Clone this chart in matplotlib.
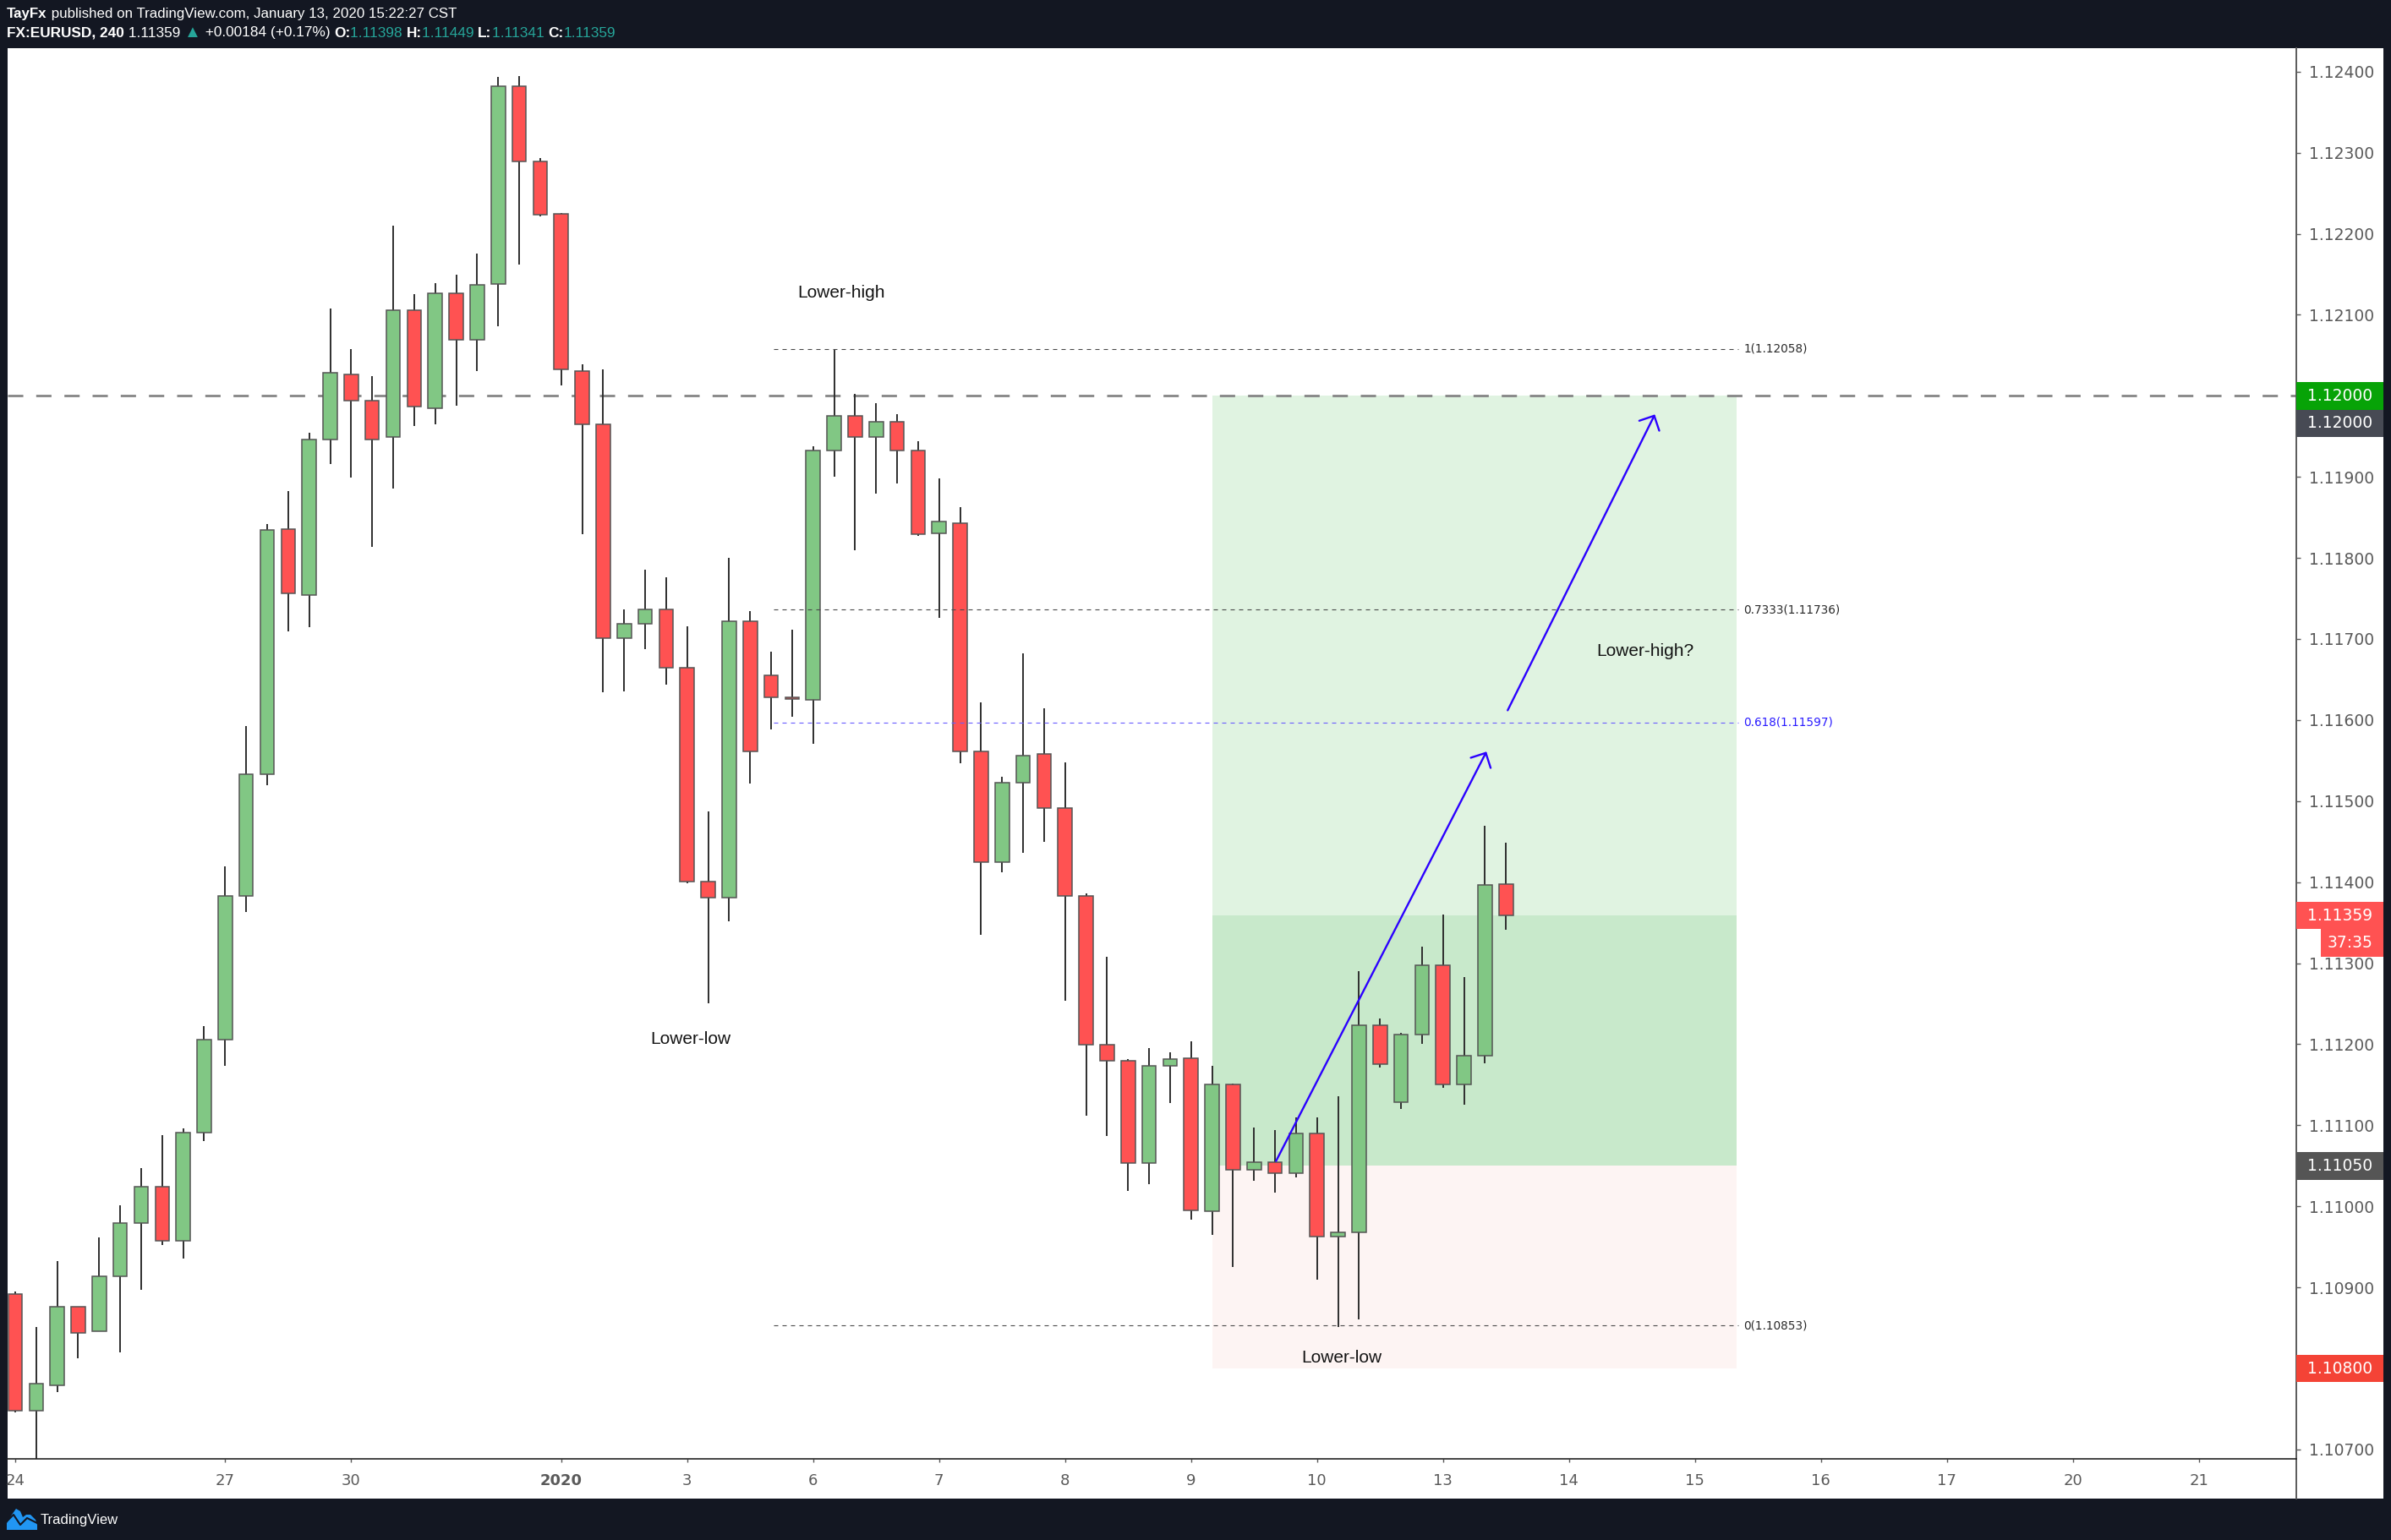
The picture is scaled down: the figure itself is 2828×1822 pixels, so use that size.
import matplotlib
matplotlib.use("Agg")
import matplotlib.pyplot as plt
from matplotlib.patches import Rectangle, FancyArrowPatch, Polygon
from matplotlib.transforms import IdentityTransform
import numpy as np

W, H = 2828, 1822

################## DATA : FX:EURUSD 240 ##################
opens = [1.10892, 1.10748, 1.10779, 1.10876, 1.10846, 1.10914, 1.10979, 1.11024, 1.10958, 1.11091,
         1.11206, 1.11383, 1.11533, 1.11836, 1.11754, 1.11946, 1.12026, 1.11994, 1.11949, 1.12106,
         1.11985, 1.12127, 1.12069, 1.12138, 1.12382, 1.12289, 1.12224, 1.12031, 1.11965, 1.11701,
         1.11719, 1.11736, 1.11665, 1.11401, 1.11381, 1.11722, 1.11655, 1.11628, 1.11625, 1.11933,
         1.11975, 1.11949, 1.11968, 1.11933, 1.11830, 1.11843, 1.11561, 1.11425, 1.11523, 1.11558,
         1.11491, 1.11383, 1.11199, 1.11180, 1.11053, 1.11173, 1.11183, 1.10994, 1.11150, 1.11045,
         1.11055, 1.11041, 1.11090, 1.10963, 1.10968, 1.11223, 1.11129, 1.11212, 1.11297, 1.11150,
         1.11186, 1.11398]
highs = [1.10895, 1.10851, 1.10932, 1.10876, 1.10962, 1.11001, 1.11047, 1.11088, 1.11096, 1.11222,
         1.11419, 1.11593, 1.11842, 1.11883, 1.11954, 1.12108, 1.12058, 1.12024, 1.12210, 1.12125,
         1.12139, 1.12149, 1.12176, 1.12393, 1.12395, 1.12293, 1.12226, 1.12039, 1.12033, 1.11736,
         1.11786, 1.11776, 1.11716, 1.11487, 1.11800, 1.11734, 1.11684, 1.11711, 1.11938, 1.12058,
         1.12002, 1.11991, 1.11977, 1.11944, 1.11898, 1.11863, 1.11622, 1.11530, 1.11682, 1.11614,
         1.11548, 1.11386, 1.11308, 1.11182, 1.11195, 1.11190, 1.11204, 1.11173, 1.11152, 1.11097,
         1.11094, 1.11110, 1.11110, 1.11136, 1.11290, 1.11232, 1.11214, 1.11320, 1.11360, 1.11283,
         1.11470, 1.11449]
lows = [1.10746, 1.10687, 1.10771, 1.10813, 1.10846, 1.10820, 1.10897, 1.10952, 1.10936, 1.11081,
        1.11173, 1.11363, 1.11520, 1.11709, 1.11715, 1.11916, 1.11899, 1.11814, 1.11886, 1.11963,
        1.11965, 1.11988, 1.12031, 1.12086, 1.12162, 1.12221, 1.12013, 1.11829, 1.11634, 1.11635,
        1.11688, 1.11644, 1.11399, 1.11251, 1.11352, 1.11522, 1.11588, 1.11604, 1.11571, 1.11900,
        1.11809, 1.11879, 1.11892, 1.11827, 1.11726, 1.11547, 1.11335, 1.11412, 1.11436, 1.11450,
        1.11254, 1.11112, 1.11087, 1.11019, 1.11027, 1.11127, 1.10984, 1.10965, 1.10925, 1.11032,
        1.11017, 1.11036, 1.10910, 1.10851, 1.10861, 1.11171, 1.11120, 1.11200, 1.11146, 1.11125,
        1.11177, 1.11341]
closes = [1.10748, 1.10781, 1.10876, 1.10844, 1.10914, 1.10979, 1.11024, 1.10958, 1.11091, 1.11206,
          1.11383, 1.11533, 1.11834, 1.11756, 1.11946, 1.12028, 1.11994, 1.11946, 1.12106, 1.11987,
          1.12127, 1.12069, 1.12137, 1.12382, 1.12289, 1.12223, 1.12033, 1.11965, 1.11701, 1.11719,
          1.11736, 1.11665, 1.11401, 1.11381, 1.11722, 1.11561, 1.11628, 1.11626, 1.11933, 1.11975,
          1.11949, 1.11968, 1.11933, 1.11829, 1.11845, 1.11561, 1.11425, 1.11523, 1.11556, 1.11491,
          1.11383, 1.11199, 1.11180, 1.11053, 1.11173, 1.11182, 1.10995, 1.11150, 1.11045, 1.11055,
          1.11041, 1.11090, 1.10963, 1.10968, 1.11223, 1.11175, 1.11212, 1.11297, 1.11150, 1.11186,
          1.11397, 1.11359]

# date axis (bar index of first bar of each labelled day)
day_ticks = [0, 10, 16, 26, 32, 38, 44, 50, 56, 62, 68, 74, 80, 86, 92, 98, 104]
day_labels = ["24", "27", "30", "2020", "3", "6", "7", "8", "9", "10", "13",
              "14", "15", "16", "17", "20", "21"]
price_ticks = [1.107, 1.108, 1.109, 1.110, 1.111, 1.112, 1.113, 1.114, 1.115,
               1.116, 1.117, 1.118, 1.119, 1.120, 1.121, 1.122, 1.123, 1.124]

# long position tool
pos_bars = (57, 82)
pos_target, pos_entry, pos_stop = 1.12000, 1.11050, 1.10800
last_price = 1.11359
hline_price = 1.12000

# fib retracement
fib_bars = (36.1, 82.06)
fib_ratios = ["1", "0.7333", "0.618", "0"]
fib_prices = [1.12058, 1.11736, 1.11597, 1.10853]
fib_colors = ["#4a4a4a", "#4a4a4a", "#6a5cff", "#4a4a4a"]
fib_text_colors = ["#2a2a2a", "#2a2a2a", "#2a1bff", "#2a2a2a"]

# arrows (bar, price) -> (bar, price)
arrows = [((60.05, 1.11056), (70.07, 1.11561)),
          ((71.08, 1.11612), (78.09, 1.11977))]

# text notes
note_text = ["Lower-high", "Lower-low", "Lower-high?", "Lower-low"]
note_x = [39.36, 32.17, 77.61, 63.18]
note_y = [1.12127, 1.11206, 1.11685, 1.10813]

################## FIGURE ##################
DARK = "#131722"
UP, DOWN = "#81c784", "#ff5252"
fig = plt.figure(figsize=(W / 100, H / 100), dpi=100, facecolor=DARK)

def fx(px):
    return px / W

def fy(py):  # py measured from top
    return 1 - py / H

# white panel behind price scale and time scale
fig.patches.append(Rectangle((fx(9), fy(1773)), fx(2819 - 9), (1773 - 57) / H,
                             transform=fig.transFigure, facecolor="white",
                             edgecolor="none", zorder=-5))

ax = fig.add_axes([fx(9), fy(1726), fx(2716 - 9), (1726 - 57) / H])
ax.set_zorder(2)
ax.set_facecolor("white")
ax.set_xlim(-0.362, 108.64)
ax.set_ylim(1.106885, 1.124289)

# position tool
x0, x1 = pos_bars
ax.add_patch(Rectangle((x0, pos_entry), x1 - x0, pos_target - pos_entry,
                       facecolor="#e0f3e1", edgecolor="none", zorder=1))
ax.add_patch(Rectangle((x0, pos_entry), x1 - x0, last_price - pos_entry,
                       facecolor="#c8e9cb", edgecolor="none", zorder=1.1))
ax.add_patch(Rectangle((x0, pos_stop), x1 - x0, pos_entry - pos_stop,
                       facecolor="#fdf4f3", edgecolor="none", zorder=1))

# horizontal dashed level
ax.axhline(hline_price, color="#858585", lw=2.0, dashes=(6.5, 5.5), zorder=1.5)

# candles
idx = np.arange(len(opens))
o, h, l, c = map(np.array, (opens, highs, lows, closes))
cols = np.where(c >= o, UP, DOWN)
ax.vlines(idx, l, h, color="#2e2e2e", lw=1.4, zorder=2.5)
ax.bar(idx, np.maximum(np.abs(c - o), 0.000025), bottom=np.minimum(o, c), width=0.67,
       color=cols, edgecolor="#555555", linewidth=1.1, zorder=3)

# fib levels
for ratio, p, lc, tc in zip(fib_ratios, fib_prices, fib_colors, fib_text_colors):
    ax.plot(fib_bars, [p, p], color=lc, lw=0.8, dashes=(4.5, 4.5), zorder=4)
    ax.text(fib_bars[1] + 0.25, p, f"{ratio}({p:.5f})", color=tc, fontsize=9.8,
            va="center", ha="left", zorder=5)

# arrows
for (a, b) in arrows:
    ax.add_patch(FancyArrowPatch(a, b, arrowstyle="->,head_length=9.5,head_width=9.5",
                                 mutation_scale=1, lw=1.7, color="#2b00ff",
                                 shrinkA=0, shrinkB=0, zorder=6))

# notes
for t, x, y in zip(note_text, note_x, note_y):
    ax.text(x, y, t, fontsize=15, family=["Liberation Sans", "DejaVu Sans"],
            color="#131313", ha="center", va="center", zorder=6)

# axes styling
for s in ("top", "left"):
    ax.spines[s].set_visible(False)
ax.spines["right"].set_color("#5a5a5a")
ax.spines["right"].set_linewidth(1.4)
ax.spines["bottom"].set_color("#222222")
ax.spines["bottom"].set_linewidth(1.2)
ax.yaxis.tick_right()
ax.set_yticks(price_ticks)
ax.set_yticklabels([f"{p:.5f}" for p in price_ticks])
ax.tick_params(axis="y", length=3.6, width=1, color="#5a5a5a", pad=7,
               labelsize=13.5, labelcolor="#5a5a5a")
ax.set_xticks(day_ticks)
ax.set_xticklabels(day_labels)
ax.tick_params(axis="x", length=3, width=1, color="#5a5a5a", pad=9,
               labelsize=13, labelcolor="#5a5a5a")
for lab in ax.get_xticklabels():
    if lab.get_text() == "2020":
        lab.set_fontweight("bold")

# price scale continues through time scale row
fig.add_artist(plt.Line2D([fx(2716), fx(2716)], [fy(1773), fy(1726)],
                          transform=fig.transFigure, color="#5a5a5a", lw=1.4))

# price labels on the scale
bx0 = 1.0
bx1 = (2819 - 9) / (2716 - 9)
txr = (2806 - 9) / (2716 - 9)
bh = 32.5 / 95.9 * 0.001
scale_tags = [(1.12000, "1.12000", "#07a307", bx0, "white"),
              (1.12000 - bh, "1.12000", "#474a54", bx0, "white"),
              (1.11359, "1.11359", "#ff5252", bx0, "white"),
              (1.11359 - bh, "37:35", "#ff5252", (2745 - 9) / (2716 - 9), "white"),
              (1.11050, "1.11050", "#555555", bx0, "white"),
              (1.10800, "1.10800", "#f44336", bx0, "white")]
yt = ax.get_yaxis_transform()
for p, s, fc, left, tc in scale_tags:
    ax.add_patch(Rectangle((left, p - bh / 2), bx1 - left, bh, transform=yt,
                           facecolor=fc, edgecolor="none", clip_on=False, zorder=20))
    ax.text(txr, p, s, transform=yt, ha="right", va="center", color=tc,
            fontsize=13.5, clip_on=False, zorder=21)

# header
fig.canvas.draw()
rend = fig.canvas.get_renderer()
HF = ["Liberation Sans", "DejaVu Sans"]

def segments(y_px, segs, x_px=8, size=12.2):
    x = x_px
    for s, col, wt, *sz in segs:
        t = fig.text(x, H - y_px, s, color=col, fontweight=wt,
                     fontsize=sz[0] if sz else size,
                     family=HF, va="center", ha="left", transform=IdentityTransform())
        x = t.get_window_extent(rend).x1

TEAL = "#26a69a"
segments(17, [("TayFx", "white", "bold"),
              (" published on TradingView.com, January 13, 2020 15:22:27 CST", "white", "normal")])
segments(39, [("FX:EURUSD, 240", "white", "bold"), (" 1.11359 ", "white", "normal"),
              ("\u25B2", TEAL, "normal", 14.5), (" +0.00184 (+0.17%) ", "white", "normal"),
              ("O:", "white", "bold"), ("1.11398 ", TEAL, "normal"),
              ("H:", "white", "bold"), ("1.11449 ", TEAL, "normal"),
              ("L:", "white", "bold"), ("1.11341 ", TEAL, "normal"),
              ("C:", "white", "bold"), ("1.11359", TEAL, "normal")], size=12.4)

# footer logo
logo = [(8, 12), (8, 20), (14, 30), (19, 37), (24, 34), (27, 27), (31, 30),
        (36, 30), (42, 24), (44, 18), (44, 12)]
fig.patches.append(Polygon([(fx(a), b / H) for a, b in logo], closed=True,
                           transform=fig.transFigure, facecolor="#2196f3",
                           edgecolor="none"))
fig.add_artist(plt.Line2D([fx(8), fx(16), fx(24), fx(32), fx(44)],
                          [22 / H, 30 / H, 18 / H, 26 / H, 20 / H],
                          transform=fig.transFigure, color=DARK, lw=1.5))
fig.text(fx(48), fy(1798), "TradingView", color="white", fontsize=12, family=HF,
         va="center", ha="left")

fig.savefig("out.png", dpi=100, facecolor=DARK)
